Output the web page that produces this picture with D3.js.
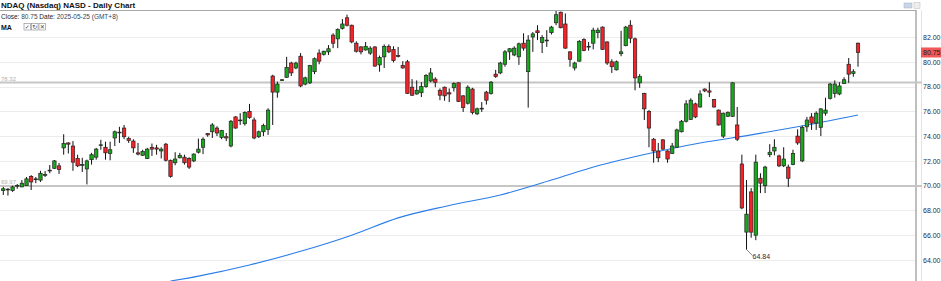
<!DOCTYPE html>
<html>
<head>
<meta charset="utf-8">
<script src="https://cdn.jsdelivr.net/npm/d3@7"></script>
<style>
  body { margin: 0; background: #fff; }
  svg { display: block; font-family: "Liberation Sans", Arial, sans-serif; }
</style>
</head>
<body>
<script>
// daily candles, [open, high, low, close]
var opens = [69.6,69.7,69.6,69.98,69.9,70.0,70.75,70.5,70.45,70.85,71.2,71.4,71.6,73.05,73.45,73.2,72.2,71.65,71.35,72.1,
  72.3,73.25,73.1,72.6,73.85,74.3,74.65,73.8,73.6,72.65,72.45,72.2,73.1,73.05,72.8,73.35,72.05,71.85,72.25,72.3,
  72.2,72.0,72.7,73.1,74.2,74.35,74.65,73.9,73.95,73.2,75.55,75.25,75.0,76.0,75.3,73.95,74.35,74.55,78.85,77.55,
  78.5,78.75,79.9,79.5,80.45,78.2,78.3,79.2,80.7,80.6,80.8,82.15,81.85,82.7,83.55,82.95,81.5,81.2,80.95,80.7,
  81.2,79.75,80.4,81.25,81.0,80.5,79.7,80.0,77.95,77.4,77.5,78.0,78.45,78.6,77.7,77.95,77.5,77.9,78.3,77.25,
  76.65,77.8,75.8,76.2,77.55,77.45,79.0,79.1,79.8,80.8,80.55,80.4,81.5,79.2,82.0,82.5,81.55,81.7,82.35,83.15,
  84.0,83.05,80.8,79.5,80.05,81.8,81.2,81.5,82.35,82.8,81.6,80.0,79.35,80.65,81.3,82.95,81.85,78.3,77.45,76.0,
  73.75,72.8,73.7,72.8,72.6,73.1,74.35,75.2,75.35,76.6,76.35,77.8,77.65,76.95,76.1,74.0,75.6,75.6,74.9,71.75,
  66.25,69.5,66.0,70.6,70.0,72.5,72.8,72.4,71.6,71.5,71.7,74.0,72.0,74.75,75.55,75.05,74.7,75.85,77.05,77.45,
  77.4,78.25,79.8,79.05,81.5];
var highs = [69.9,69.8,70.0,70.13,70.45,70.7,70.85,70.7,71.2,71.18,71.67,72.07,71.83,74.15,73.5,73.6,72.5,72.25,72.1,72.65,
  73.05,73.7,73.55,73.55,74.45,74.75,74.9,73.95,73.75,73.45,72.9,73.05,73.4,73.3,73.1,73.45,72.1,72.7,72.65,72.5,
  72.3,72.6,73.8,73.9,74.25,75.05,74.8,74.5,74.25,75.3,75.6,75.85,76.0,76.6,75.5,74.45,75.0,76.25,78.95,78.4,
  78.6,80.4,80.0,80.0,80.7,78.8,79.75,80.35,81.0,80.9,81.35,82.3,82.7,83.45,83.8,83.0,81.65,81.25,81.6,81.25,
  81.25,80.5,81.4,81.4,81.25,81.2,80.05,80.15,78.6,78.5,78.35,79.0,79.5,78.75,77.85,78.0,77.85,78.35,78.35,77.3,
  78.1,77.9,76.3,76.75,77.65,78.45,79.35,80.0,80.95,81.1,81.25,81.55,82.3,82.15,82.4,82.95,82.15,82.55,82.9,84.1,
  84.05,83.9,80.85,80.0,81.75,81.9,81.6,82.75,82.75,82.85,81.65,80.2,80.1,82.5,82.9,83.35,81.95,79.0,77.5,76.1,
  73.85,73.45,73.75,72.85,73.45,74.6,75.3,76.9,77.05,76.7,77.7,77.85,78.35,77.0,76.15,75.9,76.0,78.35,76.35,72.5,
  70.45,69.8,72.5,71.0,71.6,73.35,73.75,72.5,73.1,71.7,72.9,74.55,74.85,75.55,75.85,76.0,76.25,77.1,78.3,78.5,
  78.35,78.75,80.3,79.4,81.55];
var lows = [69.25,69.2,69.5,69.75,69.88,69.98,69.65,70.2,70.3,70.7,71.0,71.35,70.95,72.5,72.6,71.2,71.5,71.1,70.1,71.7,
  72.1,72.9,72.1,72.05,73.2,73.45,73.75,73.45,72.65,72.45,72.4,72.15,72.4,72.5,72.2,71.95,70.65,71.65,72.2,71.7,
  71.35,71.9,72.6,72.55,73.95,73.85,74.0,73.75,73.6,73.1,74.6,74.9,74.85,75.4,73.75,73.85,74.0,74.1,74.9,77.1,
  78.45,78.7,78.85,79.4,77.95,78.1,78.2,79.0,79.8,80.5,80.55,81.1,81.1,82.6,82.85,81.5,80.75,80.6,80.9,80.55,
  79.6,79.2,79.5,80.7,79.95,80.35,79.45,77.4,77.25,77.35,77.15,77.9,78.35,77.95,76.9,76.85,76.75,77.6,76.75,75.95,
  76.55,75.75,75.7,75.95,76.55,77.35,78.7,79.0,79.6,80.15,80.45,79.75,80.9,76.3,80.8,81.75,80.7,81.2,82.2,82.95,
  82.7,81.05,79.6,79.3,80.0,80.85,80.9,81.0,81.9,80.95,79.75,79.1,79.3,80.45,81.25,81.5,77.7,77.9,75.3,73.1,
  71.85,71.9,72.9,71.85,72.55,73.05,74.3,75.1,75.3,75.45,76.3,77.55,77.15,76.3,74.85,73.85,75.55,75.55,73.6,68.1,
  64.84,65.8,65.6,69.4,69.4,72.3,72.45,71.5,71.5,69.9,71.65,73.3,71.9,74.35,74.5,74.5,74.0,75.65,76.95,77.1,
  77.3,78.2,78.3,78.8,79.6];
var closes = [69.75,69.72,69.9,70.02,70.2,70.55,70.3,70.55,71.0,70.9,71.25,72.0,71.3,73.4,73.35,71.9,71.6,71.7,72.0,72.5,
  72.95,73.3,72.65,72.9,74.35,74.32,73.95,73.65,73.05,72.55,72.75,72.95,72.95,72.95,72.95,72.05,70.75,72.15,72.45,71.85,
  71.5,72.55,72.95,73.75,74.1,74.9,74.25,74.45,73.85,75.2,74.65,75.3,75.9,75.5,73.85,74.35,74.85,76.1,77.55,78.2,
  78.55,79.55,79.1,79.9,78.05,78.7,79.7,80.25,80.05,80.85,81.05,81.5,82.6,83.05,82.95,81.6,80.85,80.8,81.25,81.1,
  79.65,80.35,81.25,80.8,80.1,80.45,79.5,77.45,77.3,77.7,78.0,78.9,79.1,78.35,77.3,77.25,77.4,78.25,76.8,76.3,
  77.95,75.9,76.2,76.25,76.9,78.35,78.8,79.9,80.8,81.05,81.1,81.45,81.1,81.75,82.25,82.35,81.95,81.75,82.8,83.8,
  82.75,81.1,80.2,79.9,81.65,80.9,81.25,82.55,82.55,81.0,79.9,79.6,80.0,80.8,82.8,81.9,78.7,78.8,76.2,74.65,
  72.8,72.25,72.95,72.15,73.2,74.5,75.2,76.6,76.9,75.55,77.4,77.65,77.55,76.35,74.9,75.85,75.9,78.3,73.75,68.2,
  67.7,66.25,71.9,70.2,71.5,72.7,73.1,71.6,72.15,70.6,72.6,73.45,74.7,75.3,75.05,75.85,76.2,76.1,78.2,78.2,
  78.05,78.55,79.0,79.2,80.75];

// 200-day moving average, read at [candle index, value]
var maPoints = [[36,62.3],[42,62.7],[53,63.6],[64,64.7],[75,66.0],[85,67.4],[96,68.4],[107,69.25],
  [118,70.45],[128,71.6],[139,72.6],[150,73.45],[161,74.1],[171,74.75],[184,75.7]];

var yTicks = [64, 66, 68, 70, 72, 74, 76, 78, 80, 82];
var levels = [78.32, 69.97];
var lastClose = 80.75, lowMark = 64.84;

var width = 941, height = 281;
var plotRight = 916;

var svg = d3.select("body").append("svg")
    .attr("width", width)
    .attr("height", height);

var n = opens.length;
var candles = d3.range(n).map(function(i) {
  return {i: i, o: opens[i], h: highs[i], l: lows[i], c: closes[i]};
});

var x = d3.scaleLinear().domain([0, n - 1]).range([3.3, 858]);
var y = d3.scaleLinear().domain([64, 82]).range([260, 37]);

// grid
svg.append("g").selectAll("line")
    .data(yTicks)
  .enter().append("line")
    .attr("x1", 0).attr("x2", plotRight)
    .attr("y1", function(d) { return Math.round(y(d)) + 0.5; })
    .attr("y2", function(d) { return Math.round(y(d)) + 0.5; })
    .attr("stroke", "#ececec");

// frame
svg.append("line").attr("x1", 0).attr("x2", plotRight).attr("y1", 10.5).attr("y2", 10.5)
    .attr("stroke", "#a8a8a8");
svg.append("line").attr("x1", plotRight).attr("x2", plotRight).attr("y1", 10).attr("y2", height)
    .attr("stroke", "#a8a8a8").attr("stroke-width", 1.5);
svg.append("line").attr("x1", 921.5).attr("x2", 921.5).attr("y1", 10).attr("y2", height)
    .attr("stroke", "#e4e4e4");

// support / resistance levels
svg.append("g").selectAll("line")
    .data(levels)
  .enter().append("line")
    .attr("x1", 0).attr("x2", 922)
    .attr("y1", function(d) { return y(d); })
    .attr("y2", function(d) { return y(d); })
    .attr("stroke", "#c6c6c6").attr("stroke-width", 2);

svg.append("g").selectAll("text")
    .data(levels)
  .enter().append("text")
    .attr("x", 1).attr("y", function(d) { return y(d) - 2; })
    .attr("font-size", 6)
    .attr("fill", "#b0b0b0")
    .text(function(d) { return d.toFixed(2); });

// right axis
var axis = svg.append("g")
    .attr("transform", "translate(922,0)")
    .call(d3.axisRight(y).tickValues(yTicks).tickFormat(d3.format(".2f")).tickSize(0).tickPadding(1));
axis.select(".domain").remove();
axis.selectAll("text").attr("font-size", 7).attr("fill", "#1c2a48")
    .attr("font-family", "Liberation Sans, Arial, sans-serif");

// moving average
var line = d3.line()
    .x(function(d) { return x(d[0]); })
    .y(function(d) { return y(d[1]); })
    .curve(d3.curveMonotoneX);

svg.append("path")
    .datum(maPoints)
    .attr("d", line)
    .attr("fill", "none")
    .attr("stroke", "#2a7de8")
    .attr("stroke-width", 1.1);

// candles
var g = svg.append("g").selectAll("g")
    .data(candles)
  .enter().append("g");

g.append("line")
    .attr("x1", function(d) { return x(d.i); })
    .attr("x2", function(d) { return x(d.i); })
    .attr("y1", function(d) { return y(d.h); })
    .attr("y2", function(d) { return y(d.l); })
    .attr("stroke", "#111");

g.append("rect")
    .attr("x", function(d) { return x(d.i) - 1.7; })
    .attr("width", 3.4)
    .attr("y", function(d) { return y(Math.max(d.o, d.c)); })
    .attr("height", function(d) { return Math.max(0.8, Math.abs(y(d.o) - y(d.c))); })
    .attr("fill", function(d) { return d.c >= d.o ? "#17a81c" : "#f2242a"; })
    .attr("stroke", "#222")
    .attr("stroke-width", 0.7);

// low marker
var lowIdx = lows.indexOf(lowMark);
svg.append("line")
    .attr("x1", x(lowIdx)).attr("y1", y(lowMark))
    .attr("x2", x(lowIdx) + 6).attr("y2", y(lowMark) + 6)
    .attr("stroke", "#333").attr("stroke-width", 0.6);
svg.append("text")
    .attr("x", x(lowIdx) + 6).attr("y", y(lowMark) + 9)
    .attr("font-size", 7).attr("fill", "#1c2a48")
    .text(lowMark.toFixed(2));

// last price tag
svg.append("rect")
    .attr("x", 921).attr("y", y(lastClose) - 5)
    .attr("width", 20).attr("height", 10)
    .attr("fill", "#f25858");
svg.append("text")
    .attr("x", 923).attr("y", y(lastClose) + 2.5)
    .attr("font-size", 7).attr("fill", "#222")
    .text(lastClose.toFixed(2));

// header
svg.append("text").attr("x", 1).attr("y", 8)
    .attr("font-size", 8).attr("font-weight", "bold").attr("fill", "#111")
    .text("NDAQ (Nasdaq) NASD - Daily Chart");

var info = svg.append("text").attr("x", 1).attr("y", 19).attr("font-size", 6.5).attr("fill", "#222");
info.append("tspan").text("Close: ");
info.append("tspan").attr("fill", "#345").text("80.75");
info.append("tspan").text("  Date: ");
info.append("tspan").attr("fill", "#345").text("2025-05-25 (GMT+8)");

svg.append("text").attr("x", 1).attr("y", 30)
    .attr("font-size", 7).attr("font-weight", "bold").attr("fill", "#111")
    .text("MA");

var icons = ["\u2713", "\u21bb", "\u2715"];
var ic = svg.append("g").selectAll("g")
    .data(icons)
  .enter().append("g")
    .attr("transform", function(d, i) { return "translate(" + (24 + i * 7.5) + ",23.5)"; });
ic.append("rect").attr("width", 6.5).attr("height", 6.5)
    .attr("fill", "#fff").attr("stroke", "#888").attr("stroke-width", 0.6);
ic.append("text").attr("x", 3.25).attr("y", 5.5).attr("text-anchor", "middle")
    .attr("font-size", 6).attr("fill", "#444")
    .attr("font-family", "DejaVu Sans, sans-serif")
    .text(function(d) { return d; });

// toolbar icons top right
svg.append("rect").attr("x", 904).attr("y", 3).attr("width", 8).attr("height", 5)
    .attr("fill", "#c9d6e6").attr("stroke", "#9fb2c8").attr("stroke-width", 0.5);
svg.append("rect").attr("x", 914).attr("y", 2.5).attr("width", 6).attr("height", 6)
    .attr("fill", "#eee").attr("stroke", "#bbb").attr("stroke-width", 0.5);
</script>
</body>
</html>
